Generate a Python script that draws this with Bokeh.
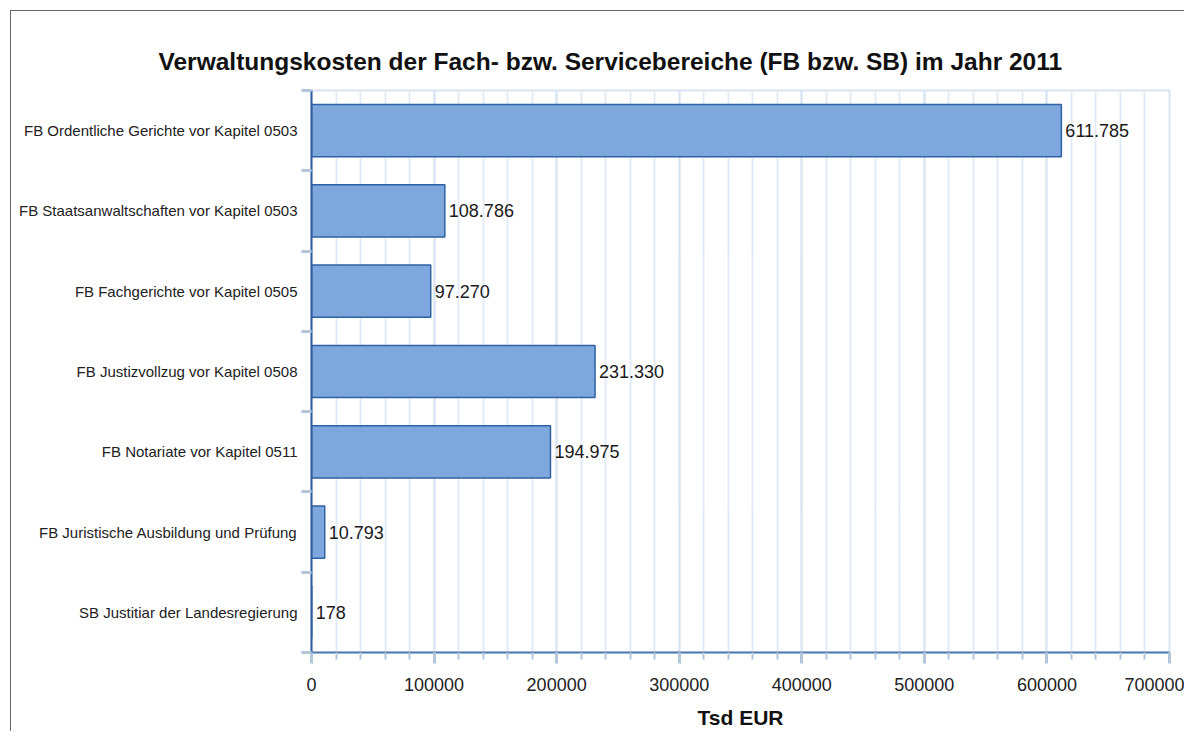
from bokeh.plotting import figure
from bokeh.models import (Range1d, LinearAxis, FixedTicker, SingleIntervalTicker,
                          ColumnDataSource, Title)
from bokeh.core.properties import value
from bokeh.embed import file_html
from bokeh.resources import INLINE

categories = [
    "FB Ordentliche Gerichte vor Kapitel 0503",
    "FB Staatsanwaltschaften vor Kapitel 0503",
    "FB Fachgerichte vor Kapitel 0505",
    "FB Justizvollzug vor Kapitel 0508",
    "FB Notariate vor Kapitel 0511",
    "FB Juristische Ausbildung und Prüfung",
    "SB Justitiar der Landesregierung",
]
values = [611785, 108786, 97270, 231330, 194975, 10793, 178]

n = len(categories)
centers = [n - 1 - i + 0.5 for i in range(n)]
boundaries = list(range(n + 1))
labels = [f"{v:,}".replace(",", ".") for v in values]

src = ColumnDataSource(dict(y=centers, v=values, lab=labels))

FONT = "Liberation Sans"

p = figure(output_backend="svg", toolbar_location=None,
           x_range=Range1d(0, 700000), y_range=Range1d(0, n),
           x_axis_location=None, y_axis_location=None,
           frame_width=858, frame_height=562,
           min_border_left=300, min_border_right=15, min_border_top=79,
           min_border_bottom=78)

p.title = Title(text="Verwaltungskosten der Fach- bzw. Servicebereiche (FB bzw. SB) im Jahr 2011",
                align="left", offset=-153, text_font=FONT, text_font_size="24.5px",
                text_font_style="bold", text_color="#111111", standoff=32)

p.hbar(y="y", right="v", left=0, height=0.65, source=src,
       fill_color="#7da7dd", line_color="#2f62a3", line_width=1.5)
p.text(x="v", y="y", text="lab", source=src, x_offset=4,
       text_baseline="middle", text_align="left", text_font=value(FONT),
       text_font_size="18px", text_color="#1a1a1a")

# grid
p.ygrid.visible = False
p.xgrid.ticker = SingleIntervalTicker(interval=100000, num_minor_ticks=5)
p.xgrid.grid_line_color = "#d8e4f1"
p.xgrid.grid_line_width = 2
p.xgrid.minor_grid_line_color = "#e3ecf6"
p.xgrid.minor_grid_line_width = 2
p.outline_line_color = "#d8e4f1"
p.outline_line_width = 2

# x axis
xa = LinearAxis(ticker=SingleIntervalTicker(interval=100000, num_minor_ticks=5),
                axis_label="Tsd EUR")
xa.axis_line_color = "#4f7bb0"
xa.axis_line_width = 2
xa.major_tick_line_color = "#b3c7dc"
xa.major_tick_line_width = 3
xa.major_tick_out = 11
xa.major_tick_in = 0
xa.minor_tick_line_color = "#b3c7dc"
xa.minor_tick_line_width = 2
xa.minor_tick_out = 7
xa.minor_tick_in = 0
xa.major_label_text_font = FONT
xa.major_label_text_font_size = "18px"
xa.major_label_text_color = "#222222"
xa.major_label_standoff = 14
xa.formatter.use_scientific = False
xa.axis_label_text_font = FONT
xa.axis_label_text_font_size = "21px"
xa.axis_label_text_font_style = "bold"
xa.axis_label_text_color = "#111111"
xa.axis_label_standoff = 12
p.add_layout(xa, "below")

# y axis: labels at band centres, ticks (minor) at band boundaries
ya = LinearAxis(ticker=FixedTicker(ticks=centers, minor_ticks=boundaries),
                major_label_overrides={c: t for c, t in zip(centers, categories)})
ya.axis_line_color = "#2e5f9e"
ya.axis_line_width = 2
ya.major_tick_line_color = None
ya.major_tick_out = 0
ya.major_tick_in = 0
ya.minor_tick_line_color = "#b3c7dc"
ya.minor_tick_line_width = 3
ya.minor_tick_out = 10
ya.minor_tick_in = 0
ya.major_label_standoff = 4
ya.major_label_text_font = FONT
ya.major_label_text_font_size = "15px"
ya.major_label_text_color = "#222222"
p.add_layout(ya, "left")

p.styles = {"border-left": "1px solid #666666", "border-top": "1px solid #666666",
            "margin-left": "10px", "margin-top": "10px"}

open("out.html", "w").write(file_html(p, INLINE))
